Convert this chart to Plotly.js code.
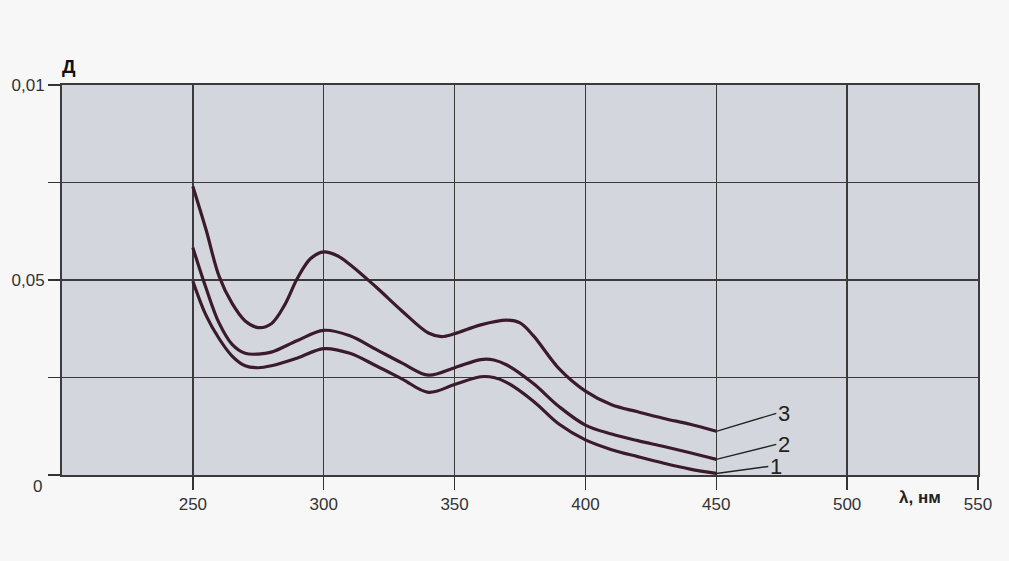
<!DOCTYPE html>
<html><head><meta charset="utf-8">
<script src="https://cdn.plot.ly/plotly-3.0.1.min.js"></script>
<style>html,body{margin:0;padding:0;background:#f7f7f7;}#chart{width:1009px;height:561px;}</style>
</head><body><div id="chart"></div>
<script>
const lambda3 = [250,255,260,265,270,275,280,285,290,295,300,305,310,320,330,340,345,350,360,370,375,380,390,400,410,420,430,440,450];
const curve3  = [0.0740,0.0630,0.0510,0.0440,0.0395,0.0378,0.0388,0.0435,0.0505,0.0555,0.0572,0.0563,0.0540,0.0482,0.0420,0.0364,0.0355,0.0362,0.0385,0.0397,0.0390,0.0358,0.0272,0.0215,0.0180,0.0162,0.0145,0.0130,0.0112];
const lambda2 = [250,255,260,265,270,275,280,290,300,310,320,330,340,350,360,365,370,380,390,400,410,420,430,440,450];
const curve2  = [0.0583,0.0480,0.0390,0.0335,0.0312,0.0310,0.0315,0.0345,0.0371,0.0357,0.0322,0.0287,0.0256,0.0275,0.0296,0.0295,0.0282,0.0235,0.0175,0.0128,0.0105,0.0088,0.0073,0.0057,0.0040];
const lambda1 = [250,255,260,265,270,275,280,290,300,310,320,330,340,350,360,365,370,380,390,400,410,420,430,440,450];
const curve1  = [0.0497,0.0410,0.0350,0.0305,0.0280,0.0275,0.0280,0.0300,0.0324,0.0312,0.0280,0.0246,0.0212,0.0232,0.0252,0.0250,0.0237,0.0190,0.0130,0.0090,0.0065,0.0047,0.0030,0.0015,0.0004];
const curveNames = ['1','2','3'];
const xTicks = [250,300,350,400,450,500,550];
const yTicks = [0,0.025,0.05,0.075,0.1];
const yTickText = ['','','0,05','','0,01'];

const lineStyle = {color:'#3b1b2b', width:3.2, shape:'spline', smoothing:1};
const traces = [
  {x:lambda1, y:curve1, mode:'lines', line:lineStyle, name:curveNames[0], hoverinfo:'skip'},
  {x:lambda2, y:curve2, mode:'lines', line:lineStyle, name:curveNames[1], hoverinfo:'skip'},
  {x:lambda3, y:curve3, mode:'lines', line:lineStyle, name:curveNames[2], hoverinfo:'skip'}
];
const FF = 'Liberation Sans, Arial, sans-serif';
const font = {family:FF, size:17, color:'#333'};
const ends = [curve1[curve1.length-1], curve2[curve2.length-1], curve3[curve3.length-1]];
const offsets = [[52,-7],[60,-15],[60,-18]];
const annotations = curveNames.map((n,i)=>({
  x:450, y:ends[i], xref:'x', yref:'y', text:n, showarrow:true, arrowhead:0, arrowwidth:1.4,
  arrowcolor:'#222', ax:offsets[i][0], ay:offsets[i][1], xanchor:'left',
  font:{family:FF, size:22, color:'#222'}
}));
annotations.push({x:528, y:0, xref:'x', yref:'paper', yshift:-22, yanchor:'middle', text:'<b>λ, нм</b>', showarrow:false,
  font:{family:FF, size:17, color:'#222'}});
annotations.push({x:0, y:0, xref:'paper', yref:'paper', xshift:-31, yshift:-11, yanchor:'middle', text:'0', showarrow:false,
  font:font});
annotations.push({x:0, y:1, xref:'paper', yref:'paper', xshift:-2, yshift:6, xanchor:'left', yanchor:'bottom', text:'<b>Д</b>', showarrow:false,
  font:{family:FF, size:19, color:'#111'}});

const layout = {
  width:1009, height:561,
  margin:{l:62, r:31, t:85, b:86},
  paper_bgcolor:'#f7f7f7', plot_bgcolor:'#d3d7dd',
  showlegend:false,
  font:font,
  xaxis:{range:[200,550], tickvals:xTicks, ticktext:xTicks.map(String), ticks:'outside', ticklen:13,
    tickcolor:'#333', tickwidth:1.5, showgrid:true, gridcolor:'#3a3a3a', gridwidth:1.4,
    showline:true, linecolor:'#3a3a3a', linewidth:2, mirror:true, zeroline:false, tickfont:font},
  yaxis:{range:[0,0.1], tickvals:yTicks, ticktext:yTickText, ticks:'outside', ticklen:12,
    tickcolor:'#333', tickwidth:1.5, showgrid:true, gridcolor:'#3a3a3a', gridwidth:1.4,
    showline:true, linecolor:'#3a3a3a', linewidth:2, mirror:true, zeroline:false, tickfont:font},
  annotations:annotations
};
Plotly.newPlot('chart', traces, layout, {staticPlot:true});
</script></body></html>
